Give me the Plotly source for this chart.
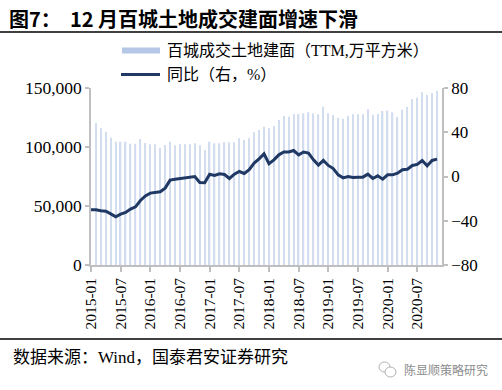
import plotly.graph_objects as go

# ---- data ----
months = [f"{y}-{m:02d}" for y in range(2015, 2021) for m in range(1, 13)]
area_ttm = [None, 120100, 115800, 113000, 107900, 104500, 104500, 104500, 102800, 102800,
            106800, 103400, 102300, 102300, 99200, 101700, 104500, 101400, 102300, 102300,
            102300, 103100, 101400, 97500, 104500, 103100, 103100, 104000, 104000, 104000,
            107400, 105900, 107400, 112400, 114400, 117200, 115800, 117800, 122900, 126300,
            125700, 128000, 128000, 128500, 129400, 128500, 127700, 134200, 128500, 127100,
            124800, 124000, 126500, 127700, 127700, 127700, 131900, 127400, 128000, 130500,
            130800, 129400, 125400, 131600, 133900, 140700, 141800, 146300, 144100, 145800,
            147700, None]
yoy = [-30.1, -30.0, -31.0, -31.3, -33.8, -36.5, -34.0, -32.5, -29.5, -27.4,
       -21.7, -17.5, -15.0, -14.5, -13.8, -10.5, -3.3, -2.4, -1.8, -1.2,
       -0.9, 0.0, -5.4, -5.7, 2.1, 0.9, 2.4, 1.8, -1.8, 2.1,
       4.5, 2.7, 6.1, 12.1, 16.0, 20.5, 11.5, 15.1, 19.6, 22.1,
       22.1, 23.5, 19.6, 22.1, 21.1, 15.1, 10.3, 14.5, 10.0, 7.2,
       1.5, -1.2, 0.0, -0.9, -0.6, -0.6, 2.1, -1.8, 0.6, -2.4,
       1.5, 1.5, 3.0, 6.1, 6.6, 10.0, 10.9, 14.5, 9.7, 14.5,
       15.7, None]
tick_months = months[::6]
left_ticks = [0, 50000, 100000, 150000]
right_ticks = [-80, -40, 0, 40, 80]

title_text = "图7：\u00a0\u00a012\u00a0月百城土地成交建面增速下滑"
bar_name = "百城成交土地建面（TTM,万平方米）"
line_name = "同比（右，%）"
source_text = "数据来源：Wind，国泰君安证券研究"
mark_text = "陈显顺策略研究"

BAR_C = "#d2ddf0"
SWATCH_C = "#b4c7e7"
LINE_C = "#1f3864"
AX_C = "#bfbfbf"
FONT = "Liberation Serif, Noto Sans CJK SC"

W, H = 502, 390
X0, X1, Y0, Y1 = 91, 442, 88, 265


def px(x):
    return (x - X0) / (X1 - X0)


def py(y):
    return (Y1 - y) / (Y1 - Y0)


fig = go.Figure()
fig.add_trace(go.Bar(x=months, y=area_ttm, marker=dict(color=BAR_C, line=dict(width=0)),
                     name=bar_name, yaxis="y"))
fig.add_trace(go.Scatter(x=months, y=yoy, mode="lines", line=dict(color=LINE_C, width=3),
                         name=line_name, yaxis="y2"))

fig.update_layout(
    width=W, height=H,
    margin=dict(l=X0, r=W - X1, t=Y0, b=H - Y1, pad=0),
    paper_bgcolor="white", plot_bgcolor="white",
    showlegend=False, bargap=0.72,
    font=dict(family=FONT, size=15, color="black"),
    xaxis=dict(type="category", categoryorder="array", categoryarray=months,
               range=[0, 71], tickmode="array", tickvals=tick_months, ticktext=tick_months,
               tickangle=-90, ticks="outside", ticklen=5, tickcolor=AX_C, tickwidth=1.5,
               showline=True, linecolor=AX_C, linewidth=1.5, showgrid=False,
               tickfont=dict(family=FONT, size=15.5), fixedrange=True),
    yaxis=dict(range=[0, 150000], tickmode="array", tickvals=left_ticks,
               tickformat=",", ticks="outside", ticklen=4, tickcolor=AX_C, tickwidth=1.5,
               showline=True, linecolor=AX_C, linewidth=1.5, showgrid=False, zeroline=False,
               tickfont=dict(family=FONT, size=17.5)),
    yaxis2=dict(range=[-80, 80], tickmode="array", tickvals=right_ticks, overlaying="y",
                side="right", ticks="outside", ticklen=4, tickcolor=AX_C, tickwidth=1.5,
                showline=True, linecolor=AX_C, linewidth=1.5, showgrid=False, zeroline=False,
                tickfont=dict(family=FONT, size=17)),
)

shapes = [
    dict(type="line", xref="paper", yref="paper", x0=px(0), x1=px(W), y0=py(32), y1=py(32),
         line=dict(color="black", width=1.5)),
    dict(type="line", xref="paper", yref="paper", x0=px(0), x1=px(W), y0=py(339), y1=py(339),
         line=dict(color="black", width=1.5)),
    # legend swatches
    dict(type="rect", xref="paper", yref="paper", x0=px(122), x1=px(160), y0=py(53.5), y1=py(47.5),
         fillcolor=SWATCH_C, line=dict(width=0)),
    dict(type="line", xref="paper", yref="paper", x0=px(121), x1=px(160), y0=py(74.5), y1=py(74.5),
         line=dict(color=LINE_C, width=3)),
    # watermark icon
    dict(type="circle", xref="paper", yref="paper", x0=px(379), x1=px(390), y0=py(372), y1=py(362),
         line=dict(color="#b0b0b0", width=1)),
    dict(type="circle", xref="paper", yref="paper", x0=px(385), x1=px(396), y0=py(377), y1=py(367),
         line=dict(color="#b0b0b0", width=1), fillcolor="white"),
]
fig.update_layout(shapes=shapes)

ann = [
    dict(text="<b>" + title_text + "</b>", x=px(7), y=py(18), xanchor="left", yanchor="middle",
         font=dict(family="Noto Sans CJK SC, Liberation Serif", size=20, color="black")),
    dict(text=bar_name, x=px(165), y=py(50), xanchor="left", yanchor="middle",
         font=dict(family=FONT, size=16)),
    dict(text=line_name, x=px(165), y=py(75), xanchor="left", yanchor="middle",
         font=dict(family=FONT, size=16)),
    dict(text=source_text, x=px(11), y=py(357), xanchor="left", yanchor="middle",
         font=dict(family=FONT, size=17)),
    dict(text=mark_text, x=px(402), y=py(369), xanchor="left", yanchor="middle",
         font=dict(family="Noto Sans CJK SC", size=12, color="#8c8c8c")),
]
for a in ann:
    a.update(xref="paper", yref="paper", showarrow=False)
fig.update_layout(annotations=ann)

fig.write_html("out.html", config={"displayModeBar": False},
               post_script="document.body.style.margin='0';document.body.style.overflow='hidden';")
